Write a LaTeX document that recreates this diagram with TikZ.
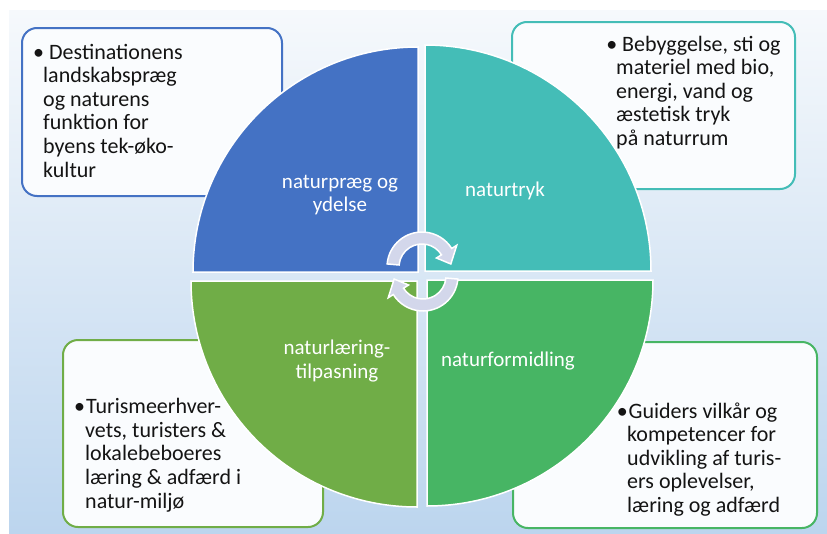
\documentclass[tikz,border=0pt]{standalone}
\usepackage{fontspec}
\setmainfont{Carlito}
\definecolor{bgtop}{HTML}{F6F9FC}
\definecolor{bgbot}{HTML}{BCD5EE}
\definecolor{qblue}{HTML}{4472C4}
\definecolor{qteal}{HTML}{44BDB7}
\definecolor{qgreen}{HTML}{70AD47}
\definecolor{qmint}{HTML}{47B564}
\definecolor{arrowlav}{HTML}{D3D7EB}
\definecolor{boxfill}{HTML}{FAFCFE}
\definecolor{txt}{HTML}{141414}
\tikzset{
  quadrant/.style={draw=white, line width=1.5pt},
  infobox/.style={draw=#1, fill=boxfill, line width=2pt, rounded corners=15pt},
  infotext/.style={anchor=base west, align=left, inner sep=0pt, text=txt,
    font=\fontsize{22}{23.6}\selectfont},
  quadlabel/.style={anchor=base, align=center, inner sep=0pt, text=white,
    font=\fontsize{21}{23.5}\selectfont},
  cyclearrow/.style={draw=white, fill=arrowlav, line width=1.5pt}
}
\begin{document}
\begin{tikzpicture}[x=1pt,y=-1pt]
\useasboundingbox (0,0) rectangle (827,533);
%background
\fill[white] (0,0) rectangle (827,533);
\shade[top color=bgtop, bottom color=bgbot] (9,10) rectangle (827,533);

%text boxes
\draw[infobox=qblue] (22,28) rectangle (282,196);
\draw[infobox=qteal] (512,22) rectangle (795,189);
\draw[infobox=qgreen] (63,340) rectangle (323,527);
\draw[infobox=qmint] (513,342) rectangle (817,528);

%quadrants
\filldraw[quadrant, fill=qblue] (418,272) -- (193,272) arc[start angle=180, end angle=270, radius=225] -- cycle;
\filldraw[quadrant, fill=qteal] (425,271) -- (425,45) arc[start angle=270, end angle=360, radius=226] -- cycle;
\filldraw[quadrant, fill=qgreen] (417,281) -- (417,507) arc[start angle=90, end angle=180, radius=226] -- cycle;
\filldraw[quadrant, fill=qmint] (427,280) -- (653,280) arc[start angle=0, end angle=90, radius=226] -- cycle;

%cycle arrows
\coordinate (ctop) at (422,267);
\coordinate (cbot) at (423,276);
\filldraw[cyclearrow] ([shift={(185:35)}]ctop) arc[start angle=185, end angle=328, radius=35]
  -- ([shift={(328:41)}]ctop) -- ([shift={(354:29)}]ctop) -- ([shift={(328:17)}]ctop)
  -- ([shift={(328:23)}]ctop) arc[start angle=328, end angle=185, radius=23] -- cycle;
\filldraw[cyclearrow] ([shift={(5:35)}]cbot) arc[start angle=5, end angle=148, radius=35]
  -- ([shift={(148:41)}]cbot) -- ([shift={(174:29)}]cbot) -- ([shift={(148:17)}]cbot)
  -- ([shift={(148:23)}]cbot) arc[start angle=148, end angle=5, radius=23] -- cycle;

%quadrant labels (base = last line)
\node[quadlabel] (praeg) at (340,211.5) {naturpræg og\\ydelse};
\node[quadlabel] (tryk) at (505,196) {naturtryk};
\node[quadlabel] (laering) at (337,378) {naturlæring-\\tilpasning};
\node[quadlabel] (formidling) at (508,366) {naturformidling};

%box texts (base = last line)
\node[infotext] (destination) at (43,177) {\hspace*{6pt}\llap{\textbullet\hspace{5pt}}Destinationens\\landskabspræg\\og naturens\\funktion for\\byens tek-øko-\\kultur};
\node[infotext] (bebyggelse) at (616,145.5) {\hspace*{6pt}\llap{\textbullet\hspace{5pt}}Bebyggelse, sti og\\materiel med bio,\\energi, vand og\\æstetisk tryk\\på naturrum};
\node[infotext] (turisme) at (85,508) {\hspace*{1pt}\llap{\textbullet\hspace{1pt}}Turismeerhver-\\vets, turisters \&\\lokalebeboeres\\læring \& adfærd i\\natur-miljø};
\node[infotext] (guider) at (627,512.5) {\hspace*{1.5pt}\llap{\textbullet\hspace{1pt}}Guiders vilkår og\\kompetencer for\\udvikling af turis-\\ers oplevelser,\\læring og adfærd};
\end{tikzpicture}
\end{document}
